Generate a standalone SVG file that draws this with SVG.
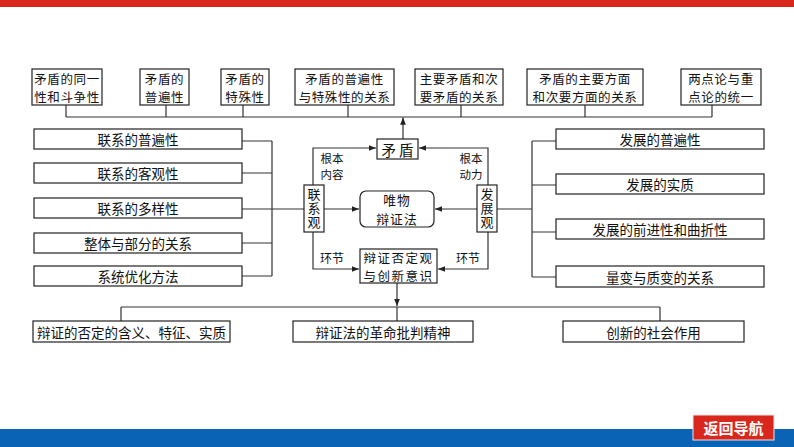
<svg xmlns="http://www.w3.org/2000/svg" width="794" height="447" viewBox="0 0 794 447">
<style>
.b{fill:#fff;stroke:#222;stroke-width:1.2}
.t{font-family:"Noto Sans CJK SC","Noto Sans",sans-serif;font-size:13.5px;fill:#111;text-anchor:middle;dominant-baseline:central}
.m{font-size:12.5px;letter-spacing:0.6px}
.v{font-size:13px;writing-mode:vertical-rl;letter-spacing:1px}
.c{fill:none;stroke:#333;stroke-width:1.2}
</style>
<defs>
<marker id="a" viewBox="0 0 10 10" refX="10" refY="5" markerWidth="6" markerHeight="6" orient="auto"><path d="M0,1 L10,5 L0,9 z" fill="#222"/></marker>
</defs>
<rect x="0" y="0" width="794" height="7" fill="#d9271d"/>
<rect x="0" y="429" width="794" height="18" fill="#0b63b6"/>
<g id="nav"><rect x="693" y="415" width="81" height="25" fill="#d9271d" stroke="#e8e8e8" stroke-width="1"/><text x="733.5" y="427.5" class="t" style="fill:#fff;font-weight:bold;font-size:15px">返回导航</text></g>

<g id="connectors">
<path class="c" d="M66,105 V117 M166,105 V117 M243,105 V117 M348,105 V117 M461,105 V117 M585,105 V117 M712,105 V117 M66,117 H712"/>
<path class="c" d="M403,139 V117.5" marker-end="url(#a)"/>
<path class="c" d="M242,141 H272 M242,173 H272 M242,243 H272 M242,276 H272 M272,141 V276 M242,209 H304"/>
<path class="c" d="M764,141 H532 M556,185 H532 M556,232 H532 M556,277 H532 M532,141 V277 M532,209 H497"/>
<path class="c" d="M313,185 V148 H376" marker-end="url(#a)"/>
<path class="c" d="M488,185 V148 H419" marker-end="url(#a)"/>
<path class="c" d="M313,232 V269 H359" marker-end="url(#a)"/>
<path class="c" d="M488,232 V269 H438" marker-end="url(#a)"/>
<path class="c" d="M324,209 H359" marker-end="url(#a)"/>
<path class="c" d="M477,209 H435" marker-end="url(#a)"/>
<path class="c" d="M397,283 V306" marker-end="url(#a)"/>
<path class="c" d="M121,307 H660 M121,307 V321 M397,307 V321 M660,307 V321"/>
</g>

<g id="top1"><rect class="b" x="32" y="69" width="70" height="36"/><text class="t m" x="67" y="78">矛盾的同一<tspan x="67" dy="18.3">性和斗争性</tspan></text></g>
<g id="top2"><rect class="b" x="140" y="69" width="49" height="36"/><text class="t m" x="164.5" y="78">矛盾的<tspan x="164.5" dy="18.3">普遍性</tspan></text></g>
<g id="top3"><rect class="b" x="221" y="69" width="48" height="36"/><text class="t m" x="245" y="78">矛盾的<tspan x="245" dy="18.3">特殊性</tspan></text></g>
<g id="top4"><rect class="b" x="295" y="69" width="99" height="36"/><text class="t m" x="344.5" y="78">矛盾的普遍性<tspan x="344.5" dy="18.3">与特殊性的关系</tspan></text></g>
<g id="top5"><rect class="b" x="415" y="69" width="88" height="36"/><text class="t m" x="459" y="78">主要矛盾和次<tspan x="459" dy="18.3">要矛盾的关系</tspan></text></g>
<g id="top6"><rect class="b" x="527" y="69" width="116" height="36"/><text class="t m" x="585" y="78">矛盾的主要方面<tspan x="585" dy="18.3">和次要方面的关系</tspan></text></g>
<g id="top7"><rect class="b" x="681" y="69" width="80" height="36"/><text class="t m" x="721" y="78">两点论与重<tspan x="721" dy="18.3">点论的统一</tspan></text></g>

<g id="l1"><rect class="b" x="34" y="129" width="208" height="20"/><text class="t" x="138" y="139">联系的普遍性</text></g>
<g id="l2"><rect class="b" x="34" y="163" width="208" height="20"/><text class="t" x="138" y="173">联系的客观性</text></g>
<g id="l3"><rect class="b" x="34" y="198" width="208" height="20"/><text class="t" x="138" y="208">联系的多样性</text></g>
<g id="l4"><rect class="b" x="34" y="233" width="208" height="20"/><text class="t" x="138" y="243">整体与部分的关系</text></g>
<g id="l5"><rect class="b" x="34" y="266" width="208" height="20"/><text class="t" x="138" y="276">系统优化方法</text></g>

<g id="r1"><rect class="b" x="556" y="129" width="208" height="20"/><text class="t" x="660" y="139">发展的普遍性</text></g>
<g id="r2"><rect class="b" x="556" y="174" width="208" height="20"/><text class="t" x="660" y="184">发展的实质</text></g>
<g id="r3"><rect class="b" x="556" y="219" width="208" height="20"/><text class="t" x="660" y="229">发展的前进性和曲折性</text></g>
<g id="r4"><rect class="b" x="556" y="266" width="208" height="21"/><text class="t" x="660" y="276.5">量变与质变的关系</text></g>

<g id="maodun"><rect class="b" x="377" y="139" width="41" height="20"/><text class="t" x="397.5" y="149" style="font-size:14.5px">矛 盾</text></g>
<g id="lianxi"><rect class="b" x="304" y="185" width="20" height="47"/><text class="t v" x="314" y="208.5">联系观</text></g>
<g id="fazhan"><rect class="b" x="477" y="185" width="20" height="47"/><text class="t v" x="487" y="208.5">发展观</text></g>
<g id="weiwu"><rect class="b" x="360" y="191" width="74" height="36" rx="6"/><text class="t" x="397" y="199.5" style="font-size:12.8px;letter-spacing:1px">唯物<tspan x="397" dy="18.8">辩证法</tspan></text></g>
<g id="foudingguan"><rect class="b" x="360" y="249" width="77" height="34"/><text class="t" x="398.5" y="257" style="font-size:12.5px;letter-spacing:1.5px">辩证否定观<tspan x="398.5" dy="18.3">与创新意识</tspan></text></g>

<g id="labels">
<text class="t" x="332" y="157.5" style="font-size:11.5px">根本<tspan x="332" dy="16.8">内容</tspan></text>
<text class="t" x="471" y="157.5" style="font-size:11.5px">根本<tspan x="471" dy="16.8">动力</tspan></text>
<text class="t" x="332" y="257" style="font-size:12px">环节</text>
<text class="t" x="468" y="257" style="font-size:12px">环节</text>
</g>

<g id="b1"><rect class="b" x="33" y="321" width="197" height="21"/><text class="t" x="131.5" y="331.5">辩证的否定的含义、特征、实质</text></g>
<g id="b2"><rect class="b" x="293" y="321" width="180" height="21"/><text class="t" x="383" y="331.5">辩证法的革命批判精神</text></g>
<g id="b3"><rect class="b" x="563" y="321" width="181" height="21"/><text class="t" x="653.5" y="331.5">创新的社会作用</text></g>
</svg>
